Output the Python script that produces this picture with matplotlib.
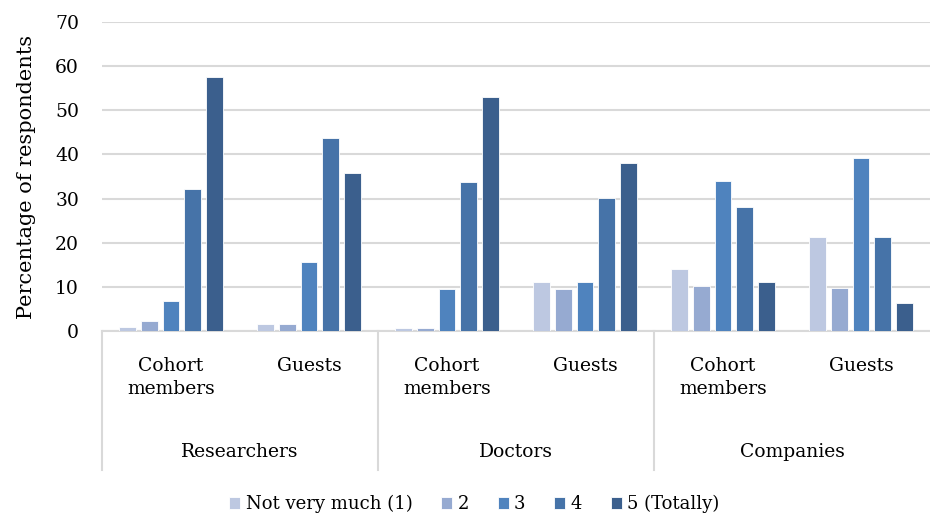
import numpy as np
import matplotlib.pyplot as plt

plt.rcParams['font.family'] = ['DejaVu Serif']

groups = ['Researchers', 'Doctors', 'Companies']
subgroups = ['Cohort\nmembers', 'Guests']
series = ['Not very much (1)', '2', '3', '4', '5 (Totally)']
# one list per answer, six bars each (Res cohort, Res guests, Doc cohort, Doc guests, Comp cohort, Comp guests)
s1 = [0.8, 1.6, 0.7, 11.0, 14.1, 21.3]
s2 = [2.2, 1.6, 0.7, 9.5, 10.3, 9.8]
s3 = [6.7, 15.6, 9.5, 11.0, 34.0, 39.3]
s4 = [32.1, 43.7, 33.8, 30.2, 28.1, 21.3]
s5 = [57.5, 35.9, 53.0, 38.1, 11.0, 6.4]
colors = ['#BDC8E1', '#96AAD1', '#4F83BE', '#4673A8', '#3B5F8D']

W, H = 930, 514
fig = plt.figure(figsize=(W / 100, H / 100), dpi=100)
ax = fig.add_axes([102 / W, (H - 331) / H, (930 - 102) / W, (331 - 22) / H])

x = np.arange(6)
step, width = 0.156, 0.123
for i, (vals, c, lab) in enumerate(zip([s1, s2, s3, s4, s5], colors, series)):
    ax.bar(x + (i - 2) * step, vals, width, color=c, edgecolor='white', linewidth=0.6, label=lab, zorder=3)

fs = 13.5
ax.set_xlim(-0.5, 5.5)
ax.set_ylim(0, 70)
ax.set_yticks(range(0, 71, 10))
ax.tick_params(axis='y', length=0, labelsize=fs, pad=16.5)
ax.set_xticks([])
ax.grid(axis='y', color='#D9D9D9', linewidth=1.5, zorder=0)
for s in ['top', 'right', 'left']:
    ax.spines[s].set_visible(False)
ax.spines['bottom'].set_color('#D9D9D9')
ax.spines['bottom'].set_linewidth(1.5)
ax.set_ylabel('Percentage of respondents', fontsize=15, labelpad=14)

tr = ax.get_xaxis_transform()
for k in range(6):
    ax.text(x[k], -0.083, subgroups[k % 2], transform=tr, ha='center', va='top', fontsize=fs, linespacing=1.38)
for g, name in enumerate(groups):
    ax.text(2 * g + 0.5, -0.39, name, transform=tr, ha='center', va='center', fontsize=fs)
for xs in [-0.5, 1.5, 3.5]:
    ax.plot([xs, xs], [0, -0.45], transform=tr, color='#D9D9D9', linewidth=1.5, clip_on=False)

fig.legend(loc='lower center', bbox_to_anchor=(0.51, -0.03), ncol=5, frameon=False, fontsize=13,
           handlelength=0.6, handleheight=0.6, handletextpad=0.3, columnspacing=1.6)

fig.savefig('out.png', dpi=100)
